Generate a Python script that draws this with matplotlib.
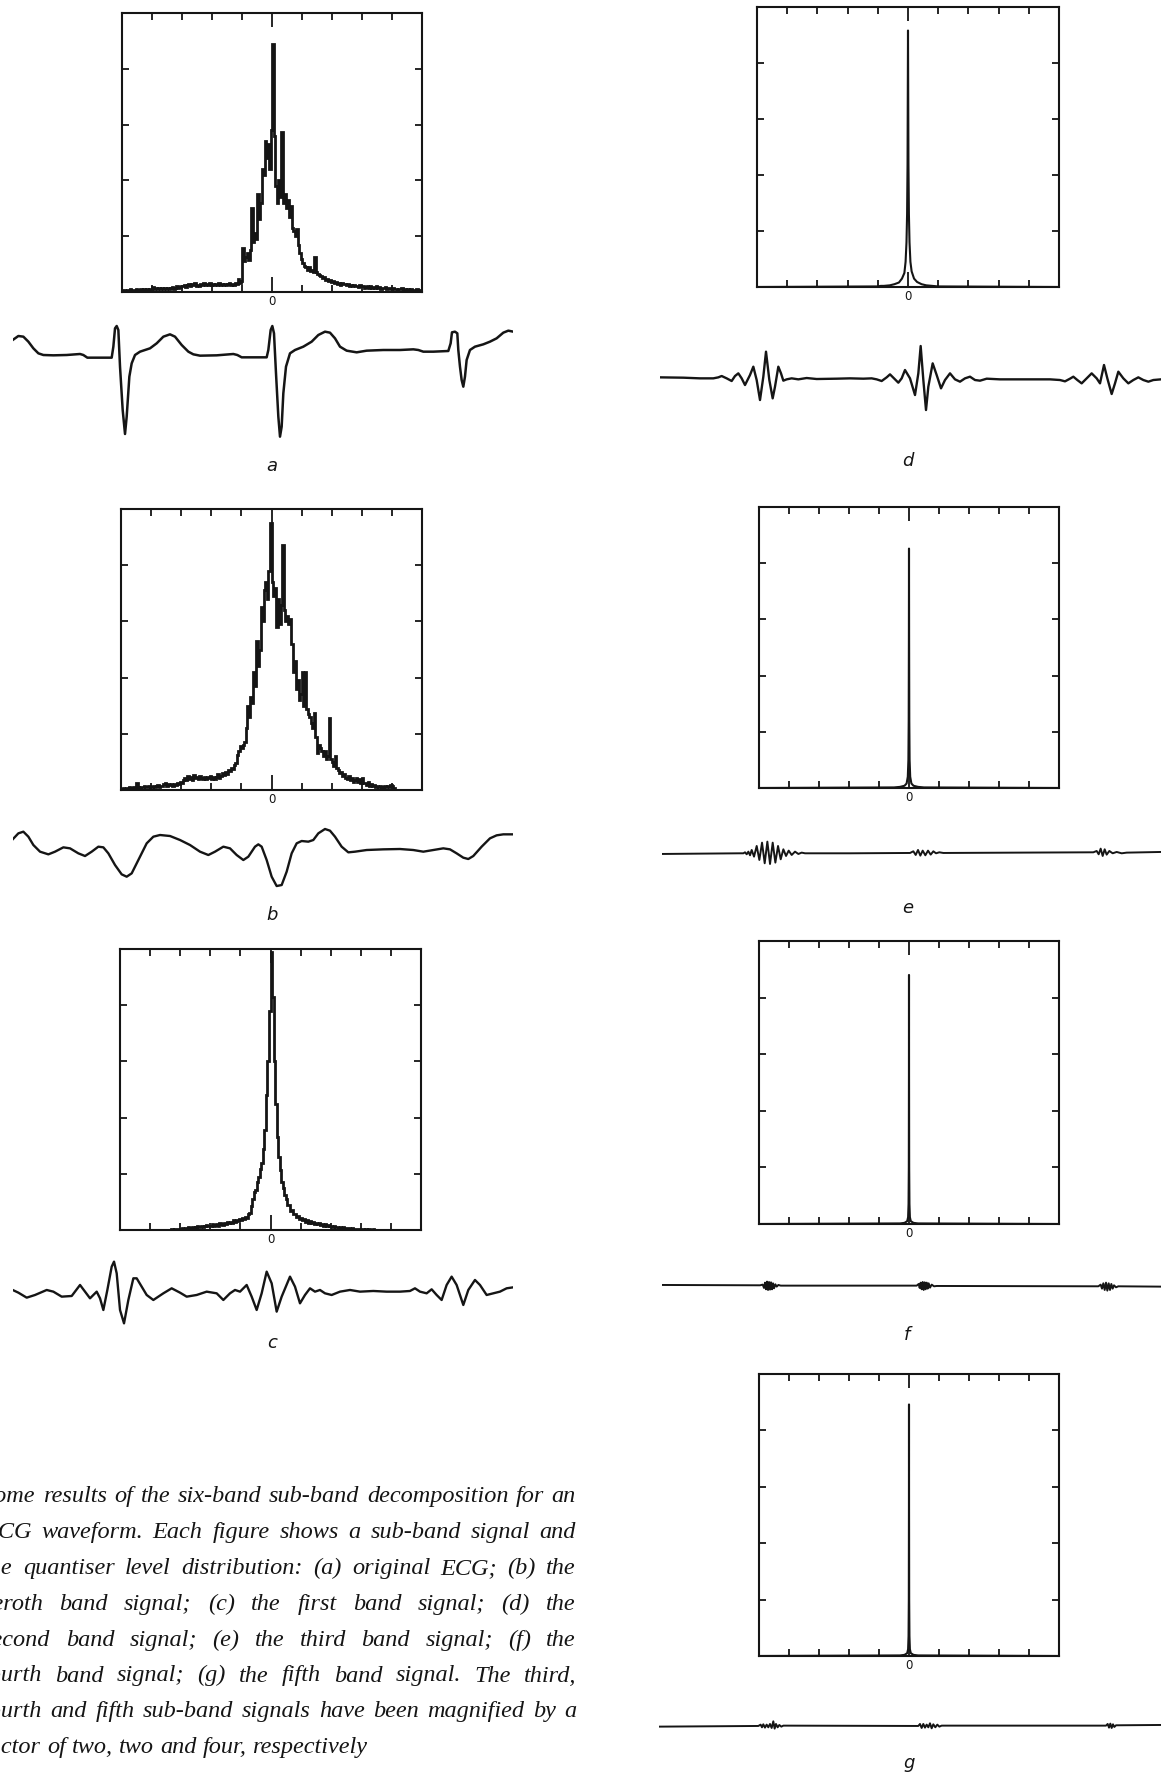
import numpy as np
import matplotlib.pyplot as plt

W, H = 1161, 1773
INK = '#151515'

# ---- quantiser level distributions (bin heights, bins of 0.05 over -5..5) ----
hist_a = [0.03, 0.04, 0.02, 0.04, 0.03, 0.05, 0.03, 0.04, 0.03, 0.05, 0.04, 0.03, 0.05, 0.04, 0.06, 0.04, 0.05, 0.03, 0.05, 0.06,
          0.09, 0.06, 0.08, 0.05, 0.07, 0.06, 0.08, 0.05, 0.07, 0.06, 0.08, 0.06, 0.07, 0.09, 0.06, 0.08, 0.10, 0.07, 0.09, 0.11,
          0.10, 0.13, 0.09, 0.12, 0.15, 0.11, 0.14, 0.12, 0.16, 0.11, 0.13, 0.10, 0.14, 0.12, 0.17, 0.13, 0.15, 0.12, 0.16, 0.13,
          0.14, 0.12, 0.15, 0.13, 0.16, 0.12, 0.14, 0.13, 0.15, 0.12, 0.14, 0.16, 0.13, 0.15, 0.12, 0.17, 0.14, 0.24, 0.16, 0.20,
          0.78, 0.55, 0.62, 0.70, 0.58, 0.75, 1.50, 0.90, 1.05, 0.95, 1.75, 1.30, 1.60, 2.20, 2.10, 2.70, 2.40, 2.65, 2.20, 2.90,
          4.45, 2.80, 1.90, 1.60, 2.00, 1.70, 2.87, 1.60, 1.75, 1.50, 1.65, 1.35, 1.55, 1.15, 1.10, 1.00, 1.13, 0.85, 0.70, 0.60,
          0.52, 0.47, 0.45, 0.40, 0.44, 0.38, 0.40, 0.35, 0.63, 0.36, 0.33, 0.30, 0.28, 0.25, 0.27, 0.22, 0.24, 0.20, 0.22, 0.18,
          0.19, 0.16, 0.18, 0.14, 0.17, 0.13, 0.16, 0.14, 0.15, 0.12, 0.14, 0.11, 0.13, 0.10, 0.12, 0.10, 0.11, 0.09, 0.12, 0.10,
          0.10, 0.08, 0.09, 0.11, 0.08, 0.10, 0.07, 0.09, 0.08, 0.10, 0.07, 0.09, 0.06, 0.08, 0.07, 0.09, 0.06, 0.08, 0.07, 0.06,
          0.07, 0.05, 0.06, 0.04, 0.06, 0.05, 0.07, 0.04, 0.05, 0.03, 0.05, 0.04, 0.06, 0.03, 0.04, 0.03, 0.05, 0.03, 0.04, 0.02]

hist_b = [0.02, 0.03, 0.02, 0.04, 0.03, 0.05, 0.04, 0.03, 0.06, 0.04, 0.12, 0.05, 0.04, 0.06, 0.05, 0.07, 0.05, 0.06, 0.08, 0.05,
          0.06, 0.08, 0.05, 0.07, 0.09, 0.06, 0.08, 0.07, 0.10, 0.12, 0.08, 0.10, 0.09, 0.11, 0.08, 0.10, 0.09, 0.12, 0.10, 0.14,
          0.13, 0.17, 0.22, 0.18, 0.25, 0.20, 0.23, 0.18, 0.26, 0.21, 0.24, 0.19, 0.25, 0.22, 0.20, 0.24, 0.19, 0.23, 0.21, 0.25,
          0.20, 0.24, 0.19, 0.23, 0.28, 0.21, 0.25, 0.30, 0.26, 0.32, 0.28, 0.36, 0.33, 0.40, 0.38, 0.44, 0.48, 0.62, 0.70, 0.78,
          0.75, 0.80, 0.85, 1.10, 1.50, 1.30, 1.65, 1.55, 2.10, 1.85, 2.65, 2.20, 2.50, 3.25, 3.00, 3.55, 3.70, 3.40, 3.90, 4.75,
          3.70, 3.45, 3.60, 2.90, 3.40, 2.95, 3.30, 4.36, 3.20, 3.00, 3.10, 2.95, 3.05, 2.60, 2.10, 2.30, 1.80, 1.95, 1.60, 1.70,
          2.10, 1.50, 2.10, 1.45, 1.35, 1.30, 1.20, 1.10, 1.37, 0.95, 0.65, 0.80, 0.75, 0.70, 0.60, 0.70, 0.55, 0.60, 1.28, 0.55,
          0.50, 0.42, 0.60, 0.40, 0.35, 0.30, 0.32, 0.25, 0.28, 0.22, 0.20, 0.25, 0.18, 0.21, 0.15, 0.18, 0.21, 0.14, 0.20, 0.12,
          0.21, 0.13, 0.12, 0.09, 0.14, 0.08, 0.10, 0.07, 0.09, 0.06, 0.08, 0.05, 0.07, 0.06, 0.04, 0.07, 0.05, 0.08, 0.06, 0.09,
          0.07, 0.04, 0, 0, 0, 0, 0, 0, 0, 0, 0, 0, 0, 0, 0, 0, 0, 0, 0, 0]

hist_c = [0, 0, 0, 0, 0, 0, 0, 0, 0, 0, 0, 0, 0, 0, 0, 0, 0, 0, 0, 0,
          0, 0, 0, 0, 0, 0, 0, 0, 0, 0, 0, 0, 0, 0, 0.01, 0, 0.01, 0.02, 0.01, 0.02,
          0.02, 0.03, 0.02, 0.04, 0.03, 0.05, 0.03, 0.04, 0.06, 0.04, 0.05, 0.07, 0.05, 0.06, 0.08, 0.06, 0.07, 0.09, 0.07, 0.08,
          0.08, 0.10, 0.07, 0.09, 0.11, 0.08, 0.12, 0.10, 0.09, 0.13, 0.11, 0.14, 0.12, 0.15, 0.13, 0.17, 0.14, 0.18, 0.16, 0.20,
          0.17, 0.21, 0.19, 0.24, 0.22, 0.28, 0.30, 0.42, 0.55, 0.68, 0.71, 0.85, 0.95, 1.08, 1.19, 1.45, 1.78, 2.40, 3.00, 3.90,
          4.95, 4.15, 3.00, 2.25, 1.66, 1.30, 1.07, 0.85, 0.74, 0.62, 0.56, 0.44, 0.45, 0.34, 0.35, 0.28, 0.29, 0.23, 0.25, 0.19,
          0.21, 0.17, 0.19, 0.15, 0.18, 0.13, 0.16, 0.12, 0.14, 0.11, 0.13, 0.10, 0.12, 0.09, 0.11, 0.08, 0.10, 0.07, 0.09, 0.07,
          0.08, 0.06, 0.07, 0.05, 0.06, 0.04, 0.05, 0.04, 0.05, 0.03, 0.04, 0.03, 0.03, 0.02, 0.03, 0.02, 0.02, 0.01, 0.02, 0.01,
          0.01, 0.01, 0, 0.01, 0, 0.01, 0, 0, 0.01, 0, 0, 0, 0, 0, 0, 0, 0, 0, 0, 0,
          0, 0, 0, 0, 0, 0, 0, 0, 0, 0, 0, 0, 0, 0, 0, 0, 0, 0, 0, 0]

# sharply peaked distributions of the higher bands (level, height)
spike_d_x = [-5, -1.0, -0.9, -0.8, -0.6, -0.45, -0.3, -0.2, -0.12, -0.08, -0.05, -0.03, -0.015, -0.005, 0,
             0.005, 0.015, 0.03, 0.05, 0.08, 0.12, 0.2, 0.3, 0.45, 0.6, 0.8, 1.0, 5]
spike_d_h = [0, 0.01, 0.02, 0.02, 0.03, 0.05, 0.08, 0.15, 0.25, 0.45, 0.8, 1.3, 2.2, 3.8, 4.58,
             3.8, 2.2, 1.3, 0.8, 0.45, 0.28, 0.15, 0.09, 0.05, 0.03, 0.02, 0.01, 0]
spike_e_x = [-5, -0.5, -0.3, -0.15, -0.08, -0.04, -0.02, -0.01, -0.004, 0, 0.004, 0.01, 0.02, 0.04, 0.08, 0.15, 0.3, 0.5, 5]
spike_e_h = [0, 0.01, 0.02, 0.04, 0.08, 0.2, 0.5, 1.2, 2.6, 4.26, 2.6, 1.2, 0.5, 0.2, 0.08, 0.04, 0.02, 0.01, 0]
spike_f_x = [-5, -0.3, -0.15, -0.06, -0.03, -0.015, -0.006, -0.002, 0, 0.002, 0.006, 0.015, 0.03, 0.06, 0.15, 0.3, 5]
spike_f_h = [0, 0.01, 0.02, 0.05, 0.12, 0.35, 1.0, 2.6, 4.4, 2.6, 1.0, 0.35, 0.12, 0.05, 0.02, 0.01, 0]
spike_g_x = [-5, -0.3, -0.15, -0.06, -0.03, -0.015, -0.006, -0.002, 0, 0.002, 0.006, 0.015, 0.03, 0.06, 0.15, 0.3, 5]
spike_g_h = [0, 0.01, 0.02, 0.05, 0.12, 0.35, 1.0, 2.6, 4.46, 2.6, 1.0, 0.35, 0.12, 0.05, 0.02, 0.01, 0]

# ---- sub-band signals (sample, amplitude) ----
ecg_a_t = [38, 55, 70, 85, 100, 115, 130, 160, 200, 240, 250, 262, 280, 335, 340, 345, 350, 355, 360, 368,
           375, 380, 388, 395, 405, 420, 450, 470, 490, 510, 525, 545, 565, 580, 600, 650, 700, 712, 725, 800,
           805, 812, 817, 822, 828, 835, 840, 845, 850, 858, 870, 885, 910, 935, 955, 975, 990, 1005, 1020, 1040,
           1070, 1100, 1150, 1200, 1240, 1255, 1270, 1300, 1345, 1352, 1356, 1365, 1372, 1375, 1380, 1385, 1390, 1395, 1400, 1410,
           1425, 1450, 1470, 1490, 1510, 1525, 1540]
ecg_a_v = [45, 57, 55, 40, 20, 5, 0, -1, 0, 3, 0, -8, -8, -8, 25, 80, 87, 75, -35, -165,
           -237, -185, -65, -25, 0, 10, 20, 35, 55, 62, 55, 30, 10, 2, -2, -1, 3, 0, -7, -7,
           15, 75, 87, 65, -55, -185, -245, -215, -115, -35, 5, 15, 25, 40, 60, 70, 67, 50, 25, 13,
           8, 13, 15, 15, 17, 15, 10, 10, 12, 35, 68, 70, 65, 15, -35, -75, -95, -65, -15, 15,
           25, 32, 40, 50, 67, 73, 70]

ecg_b_t = [38, 55, 70, 85, 100, 120, 145, 165, 190, 210, 235, 255, 275, 295, 310, 325, 345, 365, 380, 395,
           415, 440, 460, 480, 510, 540, 570, 600, 625, 645, 670, 690, 710, 730, 745, 765, 775, 785, 800, 815,
           830, 845, 860, 875, 890, 905, 925, 940, 955, 975, 990, 1005, 1025, 1045, 1065, 1100, 1150, 1200, 1240, 1270,
           1300, 1330, 1350, 1370, 1390, 1405, 1420, 1445, 1470, 1490, 1510, 1540]
ecg_b_v = [32, 50, 55, 40, 15, -5, -13, -5, 8, 5, -10, -18, -5, 10, 8, -10, -45, -73, -80, -70,
           -30, 20, 40, 45, 42, 30, 15, -5, -15, -5, 10, 5, -15, -30, -20, 10, 17, 10, -30, -80,
           -108, -105, -65, -10, 20, 27, 25, 30, 50, 63, 58, 40, 10, -7, -5, 0, 2, 3, 0, -5,
           0, 5, 2, -10, -23, -27, -18, 10, 35, 44, 47, 47]

ecg_c_t = [38, 55, 80, 105, 140, 160, 185, 215, 240, 255, 270, 290, 300, 310, 322, 335, 342, 350, 360, 372,
           385, 400, 410, 425, 440, 460, 490, 515, 540, 560, 590, 620, 650, 670, 690, 705, 720, 740, 755, 770,
           785, 800, 815, 830, 845, 870, 885, 900, 915, 930, 945, 960, 975, 995, 1020, 1050, 1080, 1120, 1160, 1200,
           1230, 1245, 1260, 1280, 1295, 1310, 1325, 1340, 1355, 1370, 1390, 1405, 1425, 1440, 1460, 1480, 1500, 1520, 1540]
ecg_c_v = [5, -3, -18, -10, 5, 0, -15, -13, 20, 0, -20, 0, -20, -55, 5, 75, 90, 55, -55, -95,
           -25, 40, 40, 15, -10, -25, -5, 10, -3, -15, -10, 0, -5, -25, -5, 5, 0, 20, -15, -55,
           -5, 60, 25, -60, -15, 45, 15, -35, -10, 10, 0, 5, -5, -10, 0, 5, 0, 2, 0, 0,
           2, 10, 0, -5, 7, -10, -25, 20, 45, 20, -40, 5, 35, 20, -10, -5, 0, 10, 13]

ecg_d_t = [30, 100, 150, 190, 205, 215, 230, 245, 255, 265, 275, 285, 300, 310, 320, 330, 340, 348, 358, 368,
           375, 385, 393, 400, 410, 425, 445, 470, 500, 560, 600, 640, 665, 680, 695, 710, 720, 735, 745, 755,
           765, 780, 795, 805, 812, 820, 828, 835, 848, 860, 873, 885, 900, 915, 930, 945, 960, 975, 990, 1010,
           1050, 1100, 1150, 1200, 1230, 1245, 1260, 1270, 1282, 1295, 1310, 1325, 1340, 1350, 1362, 1372, 1385, 1395, 1405, 1420,
           1435, 1450, 1465, 1480, 1495, 1510, 1533]
ecg_d_v = [4, 3, 1, 1, 4, 8, 1, -7, 8, 16, 1, -19, 11, 36, -4, -64, 6, 81, -4, -59,
           -24, 36, 16, -6, -2, 1, -2, 2, -1, 0, 1, 0, 1, -2, -7, 4, 13, -2, -12, 1,
           26, 1, -49, 16, 98, -4, -94, -24, 46, 11, -29, -4, 16, -2, -9, 1, 6, -4, -6, 0,
           -2, -2, -2, -2, -4, -8, 0, 6, -4, -14, 1, 16, 1, -14, 41, 1, -46, -14, 21, 1,
           -14, -4, 4, -4, -9, -4, -2]

ecg_e_t = [35, 150, 270, 280, 285, 290, 295, 300, 305, 312, 320, 328, 336, 344, 352, 360, 368, 376, 384, 392,
           400, 408, 416, 425, 435, 445, 455, 465, 600, 780, 790, 797, 804, 811, 818, 826, 834, 842, 850, 858,
           868, 880, 1100, 1330, 1340, 1346, 1352, 1358, 1364, 1370, 1378, 1388, 1400, 1415, 1430, 1533]
ecg_e_v = [-2, -1, 0, 0, 3, -3, 5, -6, 10, -10, 22, -20, 32, -30, 35, -32, 32, -28, 22, -18,
           12, -8, 8, -5, 5, -2, 2, 0, 0, 1, 6, -5, 10, -7, 8, -6, 8, -4, 6, 0,
           3, 1, 2, 3, 7, -3, 14, -8, 12, -4, 7, 0, 4, 0, 2, 4]

ecg_f_t = [35, 330, 338, 342, 345, 348, 351, 354, 357, 360, 363, 366, 369, 372, 376, 380, 385, 392,
           800, 806, 809, 812, 815, 818, 821, 824, 827, 830, 833, 836, 840, 845, 852, 860,
           1345, 1352, 1356, 1360, 1364, 1368, 1372, 1376, 1380, 1384, 1388, 1392, 1398, 1405, 1533]
ecg_f_v = [2, 1, 3, -7, 9, -11, 12, -13, 11, -12, 10, -11, 7, -8, 4, -3, 2, 0,
           0, 5, -7, 9, -11, 11, -13, 10, -11, 9, -9, 7, -6, 3, -2, -1,
           -2, 3, -9, 7, -13, 9, -15, 7, -13, 5, -9, 1, -5, -2, -3]

ecg_g_t = [28, 325, 332, 336, 340, 345, 350, 355, 360, 365, 370, 374, 378, 383, 388, 394, 400,
           805, 810, 815, 820, 825, 830, 835, 840, 845, 850, 856, 862, 868, 875,
           1368, 1373, 1377, 1381, 1385, 1389, 1393, 1398, 1533]
ecg_g_v = [-2, 0, 4, -4, 5, -5, 4, -4, 6, -6, 14, -8, 6, -4, 3, -2, 1,
           0, 6, -6, 6, -5, 4, -4, 8, -7, 5, -4, 4, -2, 1,
           1, 6, -5, 7, -6, 5, -3, 2, 3]

caption = [
    "Some results of the six-band sub-band decomposition for an",
    "ECG waveform. Each figure shows a sub-band signal and",
    "the quantiser level distribution: (a) original ECG; (b) the",
    "zeroth band signal; (c) the first band signal; (d) the",
    "second band signal; (e) the third band signal; (f) the",
    "fourth band signal; (g) the fifth band signal. The third,",
    "fourth and fifth sub-band signals have been magnified by a",
    "factor of two, two and four, respectively",
]

fig = plt.figure(figsize=(W / 100, H / 100), dpi=100)


def px_axes(left, top, width, height):
    return fig.add_axes([left / W, 1 - (top + height) / H, width / W, height / H])


def level_box(rect):
    ax = px_axes(*rect)
    ax.set_xlim(-5, 5)
    ax.set_ylim(0, 5)
    ax.set_xticks(np.arange(-4, 5))
    ax.set_xticklabels([''] * 4 + ['0'] + [''] * 4)
    ax.set_yticks([1, 2, 3, 4])
    ax.set_yticklabels([])
    ax.tick_params(direction='in', length=5, width=1.3, color=INK, top=True, right=True,
                   labelsize=8.5, labelcolor=INK, pad=2)
    for s in ax.spines.values():
        s.set_linewidth(1.5)
        s.set_color(INK)
    # the zero level gets a longer tick
    t0 = ax.xaxis.get_major_ticks()[4]
    t0.tick1line.set_markersize(11)
    t0.tick2line.set_markersize(10)
    return ax


edges = np.linspace(-5, 5, 201)

for rect, vals in [((122, 13, 300, 279), hist_a),
                   ((121, 509, 301, 281), hist_b),
                   ((120, 949, 301, 281), hist_c)]:
    ax = level_box(rect)
    ax.stairs(vals, edges, color=INK, lw=2.0)

for rect, xs, hs in [((757, 7, 302, 280), spike_d_x, spike_d_h),
                     ((759, 507, 300, 281), spike_e_x, spike_e_h),
                     ((759, 941, 300, 283), spike_f_x, spike_f_h),
                     ((759, 1374, 300, 282), spike_g_x, spike_g_h)]:
    ax = level_box(rect)
    ax.plot(xs, hs, color=INK, lw=1.5)

# signal traces
for rect, ts, vs, xl, yl, lw in [
        ((12.7, 320, 500.6, 120), ecg_a_t, ecg_a_v, (38, 1540), (-255, 105), 1.8),
        ((12.7, 820, 500.6, 76.7), ecg_b_t, ecg_b_v, (38, 1540), (-140, 90), 1.7),
        ((12.7, 1253.3, 500.6, 76.7), ecg_c_t, ecg_c_v, (38, 1540), (-115, 115), 1.7),
        ((660, 340, 501, 76.7), ecg_d_t, ecg_d_v, (30, 1533), (-114, 116), 1.7),
        ((661.7, 833.3, 499.3, 40), ecg_e_t, ecg_e_v, (35, 1533), (-60, 60), 1.4),
        ((661.7, 1273.3, 499.3, 25), ecg_f_t, ecg_f_v, (35, 1533), (-38, 37), 1.4),
        ((659.3, 1713.3, 501.7, 25), ecg_g_t, ecg_g_v, (28, 1533), (-37, 38), 1.4)]:
    ax = px_axes(*rect)
    ax.plot(ts, vs, color=INK, lw=lw, solid_joinstyle='round')
    ax.set_xlim(*xl)
    ax.set_ylim(*yl)
    ax.axis('off')

# panel letters
for letter, x, y in [('a', 272, 471), ('b', 272, 920), ('c', 272, 1348),
                     ('d', 908, 466), ('e', 908, 913), ('f', 907, 1340), ('g', 909, 1768)]:
    fig.text(x / W, 1 - y / H, letter, ha='center', va='baseline', fontsize=13,
             style='italic', family='DejaVu Sans', color=INK)

# justified caption, partly cut off at the left page edge
renderer = fig.canvas.get_renderer()
left, right = -17, 576
for k, line in enumerate(caption):
    y = 1502 + k * 35.9
    words = line.split()
    texts = [fig.text(0, 1 - y / H, w, fontsize=17.5, style='italic', family='Liberation Serif',
                      color=INK, va='baseline', ha='left') for w in words]
    widths = [t.get_window_extent(renderer).width for t in texts]
    if k == len(caption) - 1:
        gap = 6
    else:
        gap = (right - left - sum(widths)) / (len(words) - 1)
    x = left
    for t, w in zip(texts, widths):
        t.set_x(x / W)
        x += w + gap

plt.savefig('out.png', dpi=100, facecolor='white')
